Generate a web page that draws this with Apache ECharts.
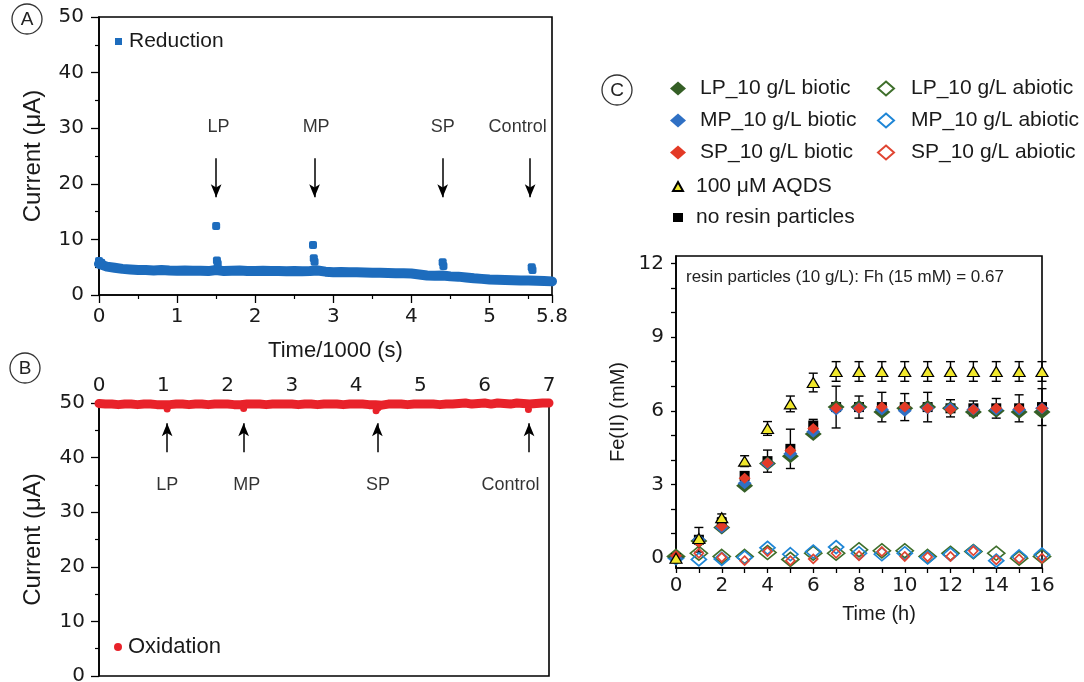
<!DOCTYPE html>
<html><head><meta charset="utf-8">
<script src="https://cdn.jsdelivr.net/npm/echarts@6/dist/echarts.min.js"></script>
<style>html,body{margin:0;padding:0;background:#fff}#c{width:1084px;height:682px}</style>
</head><body><div id="c"></div>
<script>
// ---------- Panel A: reduction current ----------
const redTime = [0,0.1,0.2,0.3,0.4,0.5,0.6,0.7,0.8,0.9,1.0,1.1,1.2,1.3,1.4,1.5,1.6,1.7,1.8,1.9,2.0,2.1,2.2,2.3,2.4,2.5,2.6,2.7,2.8,2.9,3.0,3.1,3.2,3.3,3.4,3.5,3.6,3.7,3.8,3.9,4.0,4.1,4.2,4.3,4.4,4.5,4.6,4.7,4.8,4.9,5.0,5.1,5.2,5.3,5.4,5.5,5.6,5.7,5.8];
const redCurrent = [5.6,5.1,4.9,4.7,4.6,4.5,4.5,4.4,4.5,4.4,4.35,4.4,4.35,4.35,4.3,4.5,4.3,4.35,4.4,4.3,4.3,4.35,4.3,4.3,4.25,4.3,4.25,4.3,4.4,4.2,4.1,4.15,4.1,4.1,4.05,4.0,4.0,3.95,3.9,3.9,3.85,3.7,3.5,3.45,3.5,3.35,3.3,3.15,3.0,2.9,2.8,2.75,2.7,2.65,2.6,2.6,2.55,2.5,2.45];
const redSpikeTime = [0.00,0.03,1.50,1.51,1.52,2.74,2.75,2.76,4.40,4.41,5.54,5.55];
const redSpikeCurrent = [6.1,5.8,12.4,6.2,5.6,9.0,6.6,6.0,5.9,5.2,5.0,4.5];
const aEvents = ['LP','MP','SP','Control'];
const aArrowX = [1.50,2.76,4.40,5.52];
const aArrowFrom = 24.6, aArrowTo = 17.6;
const aLabelX = [1.53,2.78,4.40,5.36];
const aLabelY = 30.3;

// ---------- Panel B: oxidation current ----------
const oxTime = [0,0.1,0.2,0.3,0.4,0.5,0.6,0.7,0.8,0.9,1.0,1.1,1.2,1.3,1.4,1.5,1.6,1.7,1.8,1.9,2.0,2.1,2.2,2.3,2.4,2.5,2.6,2.7,2.8,2.9,3.0,3.1,3.2,3.3,3.4,3.5,3.6,3.7,3.8,3.9,4.0,4.1,4.2,4.3,4.4,4.5,4.6,4.7,4.8,4.9,5.0,5.1,5.2,5.3,5.4,5.5,5.6,5.7,5.8,5.9,6.0,6.1,6.2,6.3,6.4,6.5,6.6,6.7,6.8,6.9,7.0];
const oxCurrent = [49.9,49.8,49.8,49.7,49.8,49.8,49.7,49.8,49.8,49.7,49.7,49.7,49.8,49.8,49.7,49.8,49.8,49.7,49.8,49.8,49.8,49.7,49.7,49.8,49.8,49.8,49.7,49.8,49.8,49.8,49.8,49.7,49.8,49.8,49.7,49.8,49.8,49.8,49.7,49.8,49.8,49.8,49.7,49.7,49.6,49.8,49.8,49.8,49.7,49.8,49.8,49.8,49.8,49.7,49.8,49.8,49.9,50.0,49.8,49.9,50.0,49.8,50.0,49.9,49.8,50.0,49.9,49.8,49.9,50.0,50.0];
const oxDipTime = [1.06,2.25,4.31,4.34,6.68];
const oxDipCurrent = [48.9,49.0,48.6,49.1,48.8];
const bEvents = ['LP','MP','SP','Control'];
const bArrowX = [1.06,2.25,4.33,6.69];
const bArrowFrom = 41.0, bArrowTo = 46.3;
const bLabelX = [1.06,2.30,4.34,6.40];
const bLabelY = 35.0;

// ---------- Panel C: Fe(II) ----------
const timeH = [0,1,2,3,4,5,6,7,8,9,10,11,12,13,14,15,16];
const lpBiotic = [0.05,0.7,1.25,2.95,3.85,4.15,5.05,6.15,6.15,5.95,6.1,6.15,6.1,5.95,6.0,5.95,5.95];
const mpBiotic = [0.0,0.75,1.25,3.05,3.85,4.25,5.15,6.05,6.1,6.05,6.0,6.1,6.1,6.05,6.05,6.05,6.1];
const spBiotic = [0.1,0.65,1.3,3.25,3.87,4.38,5.28,6.1,6.1,6.15,6.15,6.1,6.05,6.05,6.1,6.1,6.1];
const noResin = [0.0,0.75,1.45,3.35,3.95,4.45,5.4,6.15,6.15,6.15,6.15,6.15,6.1,6.1,6.1,6.1,6.15];
const noResinErr = [0.05,0.5,0.2,0.15,0.45,0.8,0.25,0.85,0.45,0.6,0.55,0.6,0.35,0.3,0.4,0.55,0.75];
const aqds = [0.0,0.8,1.65,3.95,5.28,6.28,7.15,7.6,7.6,7.6,7.6,7.6,7.6,7.6,7.6,7.6,7.6];
const aqdsErr = [0.05,0.1,0.15,0.22,0.28,0.32,0.38,0.4,0.4,0.4,0.4,0.4,0.4,0.4,0.4,0.4,0.4];
const lpAbiotic = [0.07,0.2,0.07,0.07,0.23,-0.05,0.2,0.2,0.34,0.3,0.3,0.07,0.2,0.27,0.2,0.0,0.07];
const mpAbiotic = [0.0,-0.05,-0.03,0.03,0.42,0.16,0.27,0.45,0.2,0.16,0.2,0.03,0.15,0.27,-0.1,0.07,0.15];
const spAbiotic = [0.07,0.2,0.03,-0.1,0.27,-0.1,-0.03,0.2,0.1,0.27,0.07,0.05,0.07,0.3,-0.07,-0.03,0.0];
const cXTicks = [0,1,2,3,4,5,6,7,8,9,10,11,12,13,14,15,16];
const cXLabels = [0,2,4,6,8,10,12,14,16];
const cYTicks = [0,1,2,3,4,5,6,7,8,9,10,11,12];
const cYLabels = [0,3,6,9,12];

const TXT = '#1a1a1a';
const NUMF = 'DejaVu Sans';
const TF = 'Liberation Sans';
const axLine = {onZero:false, lineStyle:{color:'#000', width:1.6}};
const tick = (len)=>({show:true, length:len, lineStyle:{color:'#000', width:1.3}});
const minor = (n,len)=>({show:true, splitNumber:n, length:len, lineStyle:{color:'#000', width:1.2}});
const lab = (m)=>({margin:m, fontSize:20, fontFamily:NUMF, color:TXT});

const zip = (xs, ys)=>xs.map((x,i)=>[x, ys[i]]);

function errBar(params, api){
  const x = api.value(0);
  const lo = api.coord([x, api.value(1)]);
  const hi = api.coord([x, api.value(2)]);
  const w = 4.5, st = {stroke:'#000', lineWidth:1.4};
  return {type:'group', children:[
    {type:'line', shape:{x1:lo[0],y1:lo[1],x2:hi[0],y2:hi[1]}, style:st},
    {type:'line', shape:{x1:lo[0]-w,y1:lo[1],x2:lo[0]+w,y2:lo[1]}, style:st},
    {type:'line', shape:{x1:hi[0]-w,y1:hi[1],x2:hi[0]+w,y2:hi[1]}, style:st}
  ]};
}

const chart = echarts.init(document.getElementById('c'));
const hollow = 'rgba(0,0,0,0)';

const option = {
  animation:false,
  backgroundColor:'#fff',
  grid:[
    {left:99, top:17, width:453, height:278, show:true, borderColor:'#000', borderWidth:1.6, backgroundColor:'transparent', outerBoundsMode:'none'},
    {left:99, top:403, width:450, height:273, show:true, borderColor:'#000', borderWidth:1.6, backgroundColor:'transparent', outerBoundsMode:'none'},
    {left:676, top:256, width:366, height:312, show:true, borderColor:'#000', borderWidth:1.6, backgroundColor:'transparent', outerBoundsMode:'none'}
  ],
  xAxis:[
    {gridIndex:0, type:'value', min:0, max:5.8, interval:1, axisLine:axLine, axisTick:tick(8), minorTick:minor(2,4),
     splitLine:{show:false}, minorSplitLine:{show:false}, axisLabel:lab(12),
     name:'Time/1000 (s)', nameLocation:'middle', nameGap:45, nameMoveOverlap:false,
     nameTextStyle:{fontSize:22, fontFamily:TF, color:TXT, padding:[0,0,0,20]}},
    {gridIndex:1, type:'value', position:'top', min:0, max:7, interval:1, axisLine:axLine, axisTick:{show:false},
     splitLine:{show:false}, axisLabel:lab(7)},
    {gridIndex:2, type:'value', min:0, max:16, axisLine:axLine,
     axisTick:{show:true, length:5, customValues:cXTicks, lineStyle:{color:'#000', width:1.3}},
     splitLine:{show:false}, axisLabel:Object.assign(lab(8), {customValues:cXLabels}),
     name:'Time (h)', nameLocation:'middle', nameGap:36, nameMoveOverlap:false,
     nameTextStyle:{fontSize:20, fontFamily:TF, color:TXT, padding:[0,0,0,40]}}
  ],
  yAxis:[
    {gridIndex:0, type:'value', min:0, max:50, interval:10, axisLine:axLine, axisTick:tick(8), minorTick:minor(2,4),
     splitLine:{show:false}, minorSplitLine:{show:false}, axisLabel:lab(15),
     name:'Current (μA)', nameLocation:'middle', nameGap:54, nameMoveOverlap:false,
     nameTextStyle:{fontSize:24, fontFamily:TF, color:TXT}},
    {gridIndex:1, type:'value', min:0, max:50, interval:10, axisLine:axLine, axisTick:tick(8), minorTick:minor(2,4),
     splitLine:{show:false}, minorSplitLine:{show:false}, axisLabel:lab(14),
     name:'Current (μA)', nameLocation:'middle', nameGap:54, nameMoveOverlap:false,
     nameTextStyle:{fontSize:24, fontFamily:TF, color:TXT}},
    {gridIndex:2, type:'value', min:-0.4, max:12.3, axisLine:axLine,
     axisTick:{show:true, length:5, customValues:cYTicks, lineStyle:{color:'#000', width:1.3}},
     splitLine:{show:false}, axisLabel:Object.assign(lab(12), {customValues:cYLabels}),
     name:'Fe(II) (mM)', nameLocation:'middle', nameGap:48, nameMoveOverlap:false,
     nameTextStyle:{fontSize:20, fontFamily:TF, color:TXT}}
  ],
  legend:[
    {data:[{name:'Reduction', icon:'rect'}], left:115, top:31, padding:0, itemWidth:7, itemHeight:7, selectedMode:false,
     itemStyle:{borderWidth:0}, textStyle:{fontSize:21, fontFamily:TF, color:TXT, padding:[0,0,0,2]}},
    {data:[{name:'Oxidation', icon:'circle'}], left:114, top:636, padding:0, itemWidth:8, itemHeight:8, selectedMode:false,
     itemStyle:{borderWidth:0}, textStyle:{fontSize:22, fontFamily:TF, color:TXT, padding:[0,0,0,1]}},
    {data:['LP_10 g/L biotic','MP_10 g/L biotic','SP_10 g/L biotic'], orient:'vertical', left:670, top:78, padding:0,
     itemWidth:16, itemHeight:14, itemGap:11, selectedMode:false,
     textStyle:{fontSize:21, fontFamily:TF, color:TXT, padding:[0,0,0,9]}},
    {data:['100 μM AQDS','no resin particles'], orient:'vertical', left:672, top:176, padding:0,
     itemWidth:10, itemHeight:9, itemGap:10, selectedMode:false,
     textStyle:{fontSize:21, fontFamily:TF, color:TXT, padding:[0,0,0,8]}},
    {data:['LP_10 g/L abiotic','MP_10 g/L abiotic','SP_10 g/L abiotic'], orient:'vertical', left:877, top:78, padding:0,
     itemWidth:16, itemHeight:14, itemGap:11, selectedMode:false,
     textStyle:{fontSize:21, fontFamily:TF, color:TXT, padding:[0,0,0,12]}}
  ],
  graphic:[
    {type:'circle', shape:{cx:27, cy:19, r:15}, style:{fill:'none', stroke:'#333', lineWidth:1.3}},
    {type:'text', x:27, y:20, style:{text:'A', font:'19px "Liberation Sans"', fill:'#222', textAlign:'center', textVerticalAlign:'middle'}},
    {type:'circle', shape:{cx:25, cy:368, r:15}, style:{fill:'none', stroke:'#333', lineWidth:1.3}},
    {type:'text', x:25, y:369, style:{text:'B', font:'19px "Liberation Sans"', fill:'#222', textAlign:'center', textVerticalAlign:'middle'}},
    {type:'circle', shape:{cx:617, cy:90, r:15}, style:{fill:'none', stroke:'#333', lineWidth:1.3}},
    {type:'text', x:617, y:91, style:{text:'C', font:'19px "Liberation Sans"', fill:'#222', textAlign:'center', textVerticalAlign:'middle'}},
    {type:'text', x:686, y:277, style:{text:'resin particles (10 g/L): Fh (15 mM) = 0.67', font:'17px "Liberation Sans"', fill:'#222', textVerticalAlign:'middle'}}
  ],
  series:[
    // Panel A
    {name:'Reduction', type:'line', xAxisIndex:0, yAxisIndex:0, data:zip(redTime, redCurrent), showSymbol:false, clip:false,
     lineStyle:{color:'#1d6cbd', width:10, cap:'round', join:'round'}, itemStyle:{color:'#1d6cbd'}, z:3},
    {name:'Reduction', type:'scatter', xAxisIndex:0, yAxisIndex:0, data:zip(redSpikeTime, redSpikeCurrent), symbol:'roundRect', symbolSize:8, clip:false,
     itemStyle:{color:'#1d6cbd', opacity:1}, z:3},
    {name:'aNotes', type:'scatter', xAxisIndex:0, yAxisIndex:0, symbolSize:1, itemStyle:{color:'transparent'},
     data:aLabelX.map((x,i)=>({name:aEvents[i], value:[x, aLabelY]})),
     label:{show:true, position:'inside', formatter:'{b}', fontSize:18, fontFamily:TF, color:'#000'},
     markLine:{silent:true, animation:false, symbol:['none','arrow'], symbolSize:[8,13], label:{show:false},
       lineStyle:{color:'#000', width:1.5, type:'solid', opacity:1},
       data:aArrowX.map(x=>[{coord:[x, aArrowFrom]},{coord:[x, aArrowTo]}])}},
    // Panel B
    {name:'Oxidation', type:'line', xAxisIndex:1, yAxisIndex:1, data:zip(oxTime, oxCurrent), showSymbol:false, clip:false,
     lineStyle:{color:'#e8222a', width:9, cap:'round', join:'round'}, itemStyle:{color:'#e8222a'}, z:3},
    {name:'Oxidation', type:'scatter', xAxisIndex:1, yAxisIndex:1, data:zip(oxDipTime, oxDipCurrent), symbolSize:7, clip:false,
     itemStyle:{color:'#e8222a', opacity:1}, z:3},
    {name:'bNotes', type:'scatter', xAxisIndex:1, yAxisIndex:1, symbolSize:1, itemStyle:{color:'transparent'},
     data:bLabelX.map((x,i)=>({name:bEvents[i], value:[x, bLabelY]})),
     label:{show:true, position:'inside', formatter:'{b}', fontSize:18, fontFamily:TF, color:'#000'},
     markLine:{silent:true, animation:false, symbol:['none','arrow'], symbolSize:[8,13], label:{show:false},
       lineStyle:{color:'#000', width:1.5, type:'solid', opacity:1},
       data:bArrowX.map(x=>[{coord:[x, bArrowFrom]},{coord:[x, bArrowTo]}])}},
    // Panel C error bars
    {name:'errNoResin', type:'custom', xAxisIndex:2, yAxisIndex:2, clip:false, z:2, renderItem:errBar,
     encode:{x:0, y:[1,2]}, data:timeH.map((t,i)=>[t, noResin[i]-noResinErr[i], noResin[i]+noResinErr[i]])},
    {name:'errAqds', type:'custom', xAxisIndex:2, yAxisIndex:2, clip:false, z:2, renderItem:errBar,
     encode:{x:0, y:[1,2]}, data:timeH.map((t,i)=>[t, aqds[i]-aqdsErr[i], aqds[i]+aqdsErr[i]])},
    // Panel C points
    {name:'LP_10 g/L abiotic', type:'scatter', xAxisIndex:2, yAxisIndex:2, clip:false, z:3, symbol:'diamond', symbolSize:[17,14],
     data:zip(timeH, lpAbiotic), itemStyle:{color:hollow, borderColor:'#3f6f2c', borderWidth:1.7, opacity:1}},
    {name:'MP_10 g/L abiotic', type:'scatter', xAxisIndex:2, yAxisIndex:2, clip:false, z:3, symbol:'diamond', symbolSize:[15,13],
     data:zip(timeH, mpAbiotic), itemStyle:{color:hollow, borderColor:'#1f86d6', borderWidth:1.7, opacity:1}},
    {name:'SP_10 g/L abiotic', type:'scatter', xAxisIndex:2, yAxisIndex:2, clip:false, z:3, symbol:'diamond', symbolSize:[9,9],
     data:zip(timeH, spAbiotic), itemStyle:{color:hollow, borderColor:'#e04532', borderWidth:1.7, opacity:1}},
    {name:'no resin particles', type:'scatter', xAxisIndex:2, yAxisIndex:2, clip:false, z:4, symbol:'rect', symbolSize:10,
     data:zip(timeH, noResin), itemStyle:{color:'#000', opacity:1}},
    {name:'LP_10 g/L biotic', type:'scatter', xAxisIndex:2, yAxisIndex:2, clip:false, z:5, symbol:'diamond', symbolSize:[17,14],
     data:zip(timeH, lpBiotic), itemStyle:{color:'#355f26', opacity:1}},
    {name:'MP_10 g/L biotic', type:'scatter', xAxisIndex:2, yAxisIndex:2, clip:false, z:6, symbol:'diamond', symbolSize:[14,12],
     data:zip(timeH, mpBiotic), itemStyle:{color:'#2f70c4', opacity:1}},
    {name:'SP_10 g/L biotic', type:'scatter', xAxisIndex:2, yAxisIndex:2, clip:false, z:7, symbol:'diamond', symbolSize:[12,11],
     data:zip(timeH, spBiotic), itemStyle:{color:'#e33a26', opacity:1}},
    {name:'100 μM AQDS', type:'scatter', xAxisIndex:2, yAxisIndex:2, clip:false, z:8, symbol:'triangle', symbolSize:[12,10],
     data:zip(timeH, aqds), itemStyle:{color:'#f1e82c', borderColor:'#000', borderWidth:1.2, opacity:1}}
  ]
};
chart.setOption(option);
</script></body></html>
